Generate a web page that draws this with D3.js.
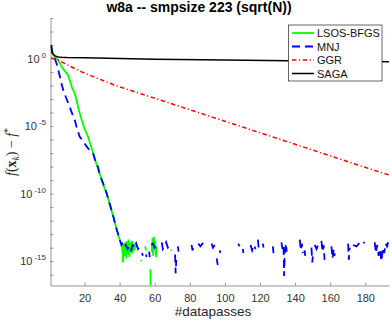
<!DOCTYPE html>
<html>
<head>
<meta charset="utf-8">
<script src="https://cdn.jsdelivr.net/npm/d3@7"></script>
<style>
  body { margin: 0; background: #fff; }
  svg { display: block; font-family: "Liberation Sans", Arial, sans-serif; }
</style>
</head>
<body>
<svg width="390" height="320"></svg>
<script>
// values: [datapasses, log10(f(x_k) - f*)], null = gap
const lsosPts = [
  [1, 0.9], [1.5, 0.5], [2, 0.3], [3, 0.1], [4, 0.0], [4.9, -0.11], [6, -0.35], [7, -0.6],
  [8, -0.8], [9, -0.95], [10.6, -1.22], [12, -1.8], [13, -2.2], [14.4, -2.57], [15.5, -3.1],
  [16.5, -3.7], [18.1, -4.42], [20, -5.2], [22, -5.78], [23.5, -6.4], [25, -7.0], [26, -7.5],
  [27.6, -8.13], [28.8, -8.62], [30.5, -9.3], [32.6, -9.98], [34.5, -10.9], [36.4, -11.7],
  [38, -12.5], [39.8, -13.3], [41.1, -13.8],
  [41.5, -14.0], [42, -15.1], [42.4, -13.7], [42.9, -14.6], [43.3, -13.6], [43.8, -14.8],
  [44.2, -13.5], [44.7, -14.5], [45.1, -13.4], [45.6, -14.7], [46, -13.6], [46.5, -14.3],
  [47, -13.5], [47.5, -14.4], [48, -13.8], [48.5, -14.2], [49, -13.6], [49.5, -14.0], [50, null],
  [52, -14.9], [52.4, -15.0], [53, null], [54.5, -13.9], [55.1, -14.2], [55.5, null],
  [57.5, -15.6], [57.8, -18], [58, null],
  [58.3, -14.3], [58.7, -13.3], [59.1, -14.6], [59.5, -13.2], [59.9, -14.0], [60.3, -13.5],
  [60.7, -14.7], [61, -13.9]
];

const mnjPts = [
  [1, 0.95], [1.5, 0.45], [2, 0.2], [3, 0.0], [4, -0.35], [5, -0.85], [6, -1.35], [6.8, -1.83],
  [8, -2.4], [9.6, -2.94], [11.5, -3.56], [13, -4.1], [14.4, -4.55], [16, -5.3], [17.2, -5.78],
  [18.5, -6.0], [20, -6.28], [22, -6.65], [24.8, -7.0], [26, -7.5], [27.6, -8.0], [28.8, -8.62],
  [30.5, -9.2], [32.6, -9.98], [34.5, -10.8], [36.4, -11.7], [38, -12.5], [39.8, -13.3], [41, -13.8],
  [41.5, -13.7], [42.5, -14.0], [43.5, -13.8], [44.5, -14.1], [45.5, -13.9], [46.5, -14.2],
  [47.5, -13.8], [48.5, -14.0], [49.5, -13.7], [50.5, -14.1], [51.5, -13.9], [52, null],
  [52.8, -14.4], [53.2, -14.6], [54, null], [55, -14.5], [55.4, -14.7], [56, null],
  [56.8, -14.3], [57.2, -14.7], [57.6, null], [58, -13.8], [59, -13.7], [60, -14.0], [61, -13.8], [62, null],
  [64, -13.6], [64.6, -14.1], [65.4, -13.9], [66.5, -13.6], [67.5, -14.0], [68.5, -13.9], [69.5, -14.2], [70.5, null],
  [71.6, -14.5], [71.9, -15.9], [72.3, -14.9], [72.8, null], [73.2, -13.9], [73.6, -14.3], [75, null],
  [81, -13.8], [81.5, -14.2], [82.5, -13.8], [83.5, null],
  [84.8, -13.7], [86, -13.9], [87.2, -13.7], [88.6, -13.9], [90, null],
  [92.4, -13.7], [93.2, -14.0], [94.2, -13.8], [94.8, null], [95.3, -14.8], [95.9, -15.3], [96.5, null],
  [97, -14.2], [97.4, -14.4], [100, null], [107.6, -13.7], [108.4, -13.9], [109, null],
  [110.2, -14.1], [110.6, -14.4], [112, null],
  [114.6, -13.8], [115.5, -14.2], [116.5, -13.8], [117.5, -14.1], [118.2, null],
  [118.8, -13.4], [119.2, -14.0], [120, null], [121.6, -13.7], [122, -14.0], [124, null],
  [127.3, -13.9], [127.7, -14.4], [130, null],
  [132.2, -13.6], [132.8, -14.1], [133.4, -13.8], [133.7, -16.1], [134.1, -14.5], [134.8, -13.7], [135.2, -14.3], [138, null],
  [142.7, -13.4], [143.2, -14.2], [143.8, -13.7], [144.4, -14.4], [145, null], [145.4, -14.2], [145.8, -14.6], [147, null],
  [149.3, -14.0], [149.8, -15.1], [150.3, -14.3], [150.8, null], [151.2, -13.8], [152.2, -14.1], [153.1, -13.8], [154, null],
  [155, -13.5], [155.6, -14.3], [156.2, -13.8], [156.8, -14.9], [158, null],
  [160.7, -13.9], [161.3, -14.8], [162, -14.1], [162.6, -14.6], [165, null],
  [170.2, -13.7], [170.6, -14.9], [171.1, -14.0], [172, null],
  [173, -13.8], [175, -13.9], [177, -13.6], [178.5, -13.7], [179.7, -13.6], [182, null],
  [185.4, -13.6], [186, -14.4], [186.8, -13.8], [187.6, -14.6], [188.4, -14.1], [189.2, -15.0],
  [190, -14.0], [190.8, -14.4], [191.6, -13.7], [192.4, -13.9], [193, -13.6]
];

const ggrPts = [
  [1, 0.05], [2, 0.0], [5, -0.11], [10, -0.45], [18, -0.97], [27, -1.45], [37, -1.96],
  [46, -2.35], [56, -2.77], [65, -3.15], [73, -3.49], [85, -4.0], [100, -4.64], [115, -5.28],
  [130, -5.92], [145, -6.56], [160, -7.2], [175, -7.85], [193.5, -8.62]
];

const sagaPts = [
  [1, 1.0], [1.5, 0.55], [2, 0.35], [3, 0.22], [4, 0.15], [5, 0.12], [7, 0.1], [10, 0.08],
  [20, 0.05], [40, 0.0], [60, -0.05], [100, -0.1], [136, -0.16], [193.5, -0.23]
];

const seriesNames = ["LSOS-BFGS", "MNJ", "GGR", "SAGA"];
const xTicks = [20, 40, 60, 80, 100, 120, 140, 160, 180];
const yTickExps = d3.range(-16, 4);
const yLabelExps = [0, -5, -10, -15];

const plot = { left: 50.5, right: 389, top: 18, bottom: 285.5 };

const svg = d3.select("svg");

const x = d3.scaleLinear().domain([0.6, 193.5]).range([plot.left, plot.right]);
const y = d3.scaleLog().domain([Math.pow(10, -16.8), 1e3]).range([plot.bottom, plot.top]);

svg.append("defs").append("clipPath").attr("id", "clip")
  .append("rect")
  .attr("x", plot.left).attr("y", plot.top)
  .attr("width", plot.right - plot.left).attr("height", plot.bottom - plot.top);

const series = [
  { name: seriesNames[0], pts: lsosPts, color: "#00ff00", width: 1.8, dash: null },
  { name: seriesNames[1], pts: mnjPts, color: "#0000ff", width: 1.8, dash: "8,5" },
  { name: seriesNames[2], pts: ggrPts, color: "#ff0000", width: 1.5, dash: "4.5,2.5,1.2,2.5" },
  { name: seriesNames[3], pts: sagaPts, color: "#000000", width: 1.5, dash: null }
];

const line = d3.line()
  .defined(d => d[1] !== null)
  .x(d => x(d[0]))
  .y(d => y(Math.pow(10, d[1])));

// axes
const yAxis = svg.append("g")
  .attr("transform", `translate(${plot.left},0)`)
  .call(d3.axisLeft(y)
    .tickValues(yTickExps.map(e => Math.pow(10, e)))
    .tickSizeInner(-3).tickSizeOuter(0).tickFormat(""));

const xAxis = svg.append("g")
  .attr("transform", `translate(0,${plot.bottom})`)
  .call(d3.axisBottom(x)
    .tickValues(xTicks)
    .tickSizeInner(-3).tickSizeOuter(0).tickPadding(8.5));

svg.selectAll(".domain, .tick line").attr("stroke", "#7a7a7a").attr("stroke-width", 0.8);
xAxis.attr("font-family", null).attr("font-size", null);
xAxis.selectAll("text").attr("fill", "#333").style("font-size", "11px");
yAxis.attr("font-family", null);

const yLab = svg.append("g").attr("fill", "#333").style("font-size", "11px");
yLabelExps.forEach(e => {
  const t = yLab.append("text")
    .attr("x", 46)
    .attr("y", y(Math.pow(10, e)) + 4)
    .attr("text-anchor", "end");
  t.append("tspan").text("10");
  t.append("tspan").attr("dx", 2).attr("dy", -5).style("font-size", "8px").text(e === 0 ? "0" : "-" + (-e));
});

// lines
const lines = svg.append("g").attr("clip-path", "url(#clip)");
series.forEach(s => {
  lines.append("path")
    .datum(s.pts)
    .attr("d", line)
    .attr("fill", "none")
    .attr("stroke", s.color)
    .attr("stroke-width", s.width)
    .attr("stroke-dasharray", s.dash);
});

// title and labels
svg.append("text")
  .attr("x", 199).attr("y", 12)
  .attr("text-anchor", "middle")
  .style("font-size", "14px").style("font-weight", "bold")
  .text("w8a -- smpsize 223 (sqrt(N))");

svg.append("text")
  .attr("x", 213).attr("y", 316)
  .attr("text-anchor", "middle")
  .attr("fill", "#262626")
  .style("font-size", "13.5px")
  .text("#datapasses");

const yl = svg.append("text")
  .attr("transform", "translate(15.5,152) rotate(-90)")
  .attr("text-anchor", "middle")
  .attr("fill", "#262626")
  .style("font-family", "'Liberation Serif', serif")
  .style("font-size", "14px");
yl.append("tspan").style("font-style", "italic").text("f");
yl.append("tspan").text("(");
yl.append("tspan").style("font-weight", "bold").text("x");
yl.append("tspan").attr("dy", 3).style("font-style", "italic").style("font-size", "9.5px").text("k");
yl.append("tspan").attr("dy", -3).text(") \u2212 ");
yl.append("tspan").style("font-style", "italic").text("f");
yl.append("tspan").attr("dy", -5).style("font-size", "9.5px").text("*");

// legend
const lg = svg.append("g");
lg.append("rect")
  .attr("x", 288.5).attr("y", 25)
  .attr("width", 93.5).attr("height", 56)
  .attr("fill", "#fff").attr("stroke", "#262626").attr("stroke-width", 0.7);
series.forEach((s, i) => {
  const ry = 33 + i * 13.5;
  lg.append("line")
    .attr("x1", 292).attr("x2", 314).attr("y1", ry).attr("y2", ry)
    .attr("stroke", s.color).attr("stroke-width", s.width)
    .attr("stroke-dasharray", s.dash);
  lg.append("text")
    .attr("x", 317).attr("y", ry + 4)
    .attr("fill", "#111")
    .style("font-size", "11px")
    .text(s.name);
});
</script>
</body>
</html>
